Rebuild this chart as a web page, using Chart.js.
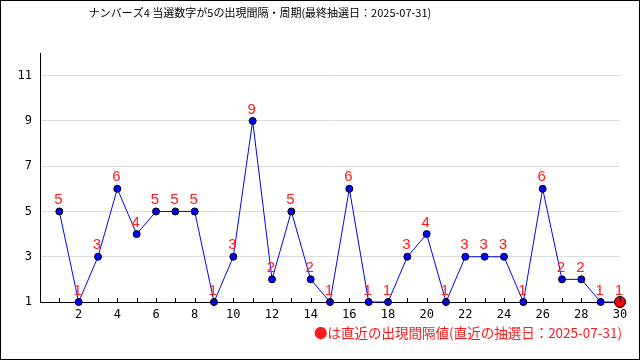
<!DOCTYPE html>
<html>
<head>
<meta charset="utf-8">
<script src="https://cdn.jsdelivr.net/npm/chart.js@4"></script>
<style>
  html, body { margin: 0; padding: 0; background: #fff; }
  #wrap { width: 640px; height: 360px; }
</style>
</head>
<body>
<div id="wrap"><canvas id="intervalChart" width="640" height="360"></canvas></div>
<script>
const titleText = "ナンバーズ4 当選数字が5の出現間隔・周期(最終抽選日：2025-07-31)";
const noteText = "●は直近の出現間隔値(直近の抽選日：2025-07-31)";
const draws = [1, 2, 3, 4, 5, 6, 7, 8, 9, 10, 11, 12, 13, 14, 15, 16, 17, 18, 19, 20, 21, 22, 23, 24, 25, 26, 27, 28, 29, 30];
const intervals = [5, 1, 3, 6, 4, 5, 5, 5, 1, 3, 9, 2, 5, 2, 1, 6, 1, 1, 3, 4, 1, 3, 3, 3, 1, 6, 2, 2, 1, 1];
const yTicks = [1, 3, 5, 7, 9, 11];
const xTicks = draws;

const monoFont = "'DejaVu Sans Mono', monospace";
const lastIdx = intervals.length - 1;

// labels, inward ticks, title, note and frame
const extras = {
  id: "extras",
  afterDatasetsDraw(c) {
    const ctx = c.ctx;
    const meta = c.getDatasetMeta(0);
    ctx.save();
    ctx.fillStyle = "#ff1a1a";
    ctx.font = "15px 'Liberation Sans', sans-serif";
    ctx.textAlign = "center";
    ctx.textBaseline = "bottom";
    meta.data.forEach((pt, i) => {
      ctx.fillText(String(intervals[i]), pt.x - 1, pt.y - 4);
    });
    ctx.restore();
  },
  afterDraw(c) {
    const ctx = c.ctx;
    const xs = c.scales.x;
    const bottom = c.chartArea.bottom;
    ctx.save();
    ctx.strokeStyle = "#000";
    ctx.lineWidth = 1;
    ctx.beginPath();
    xTicks.forEach((v) => {
      const px = Math.round(xs.getPixelForValue(v)) + 0.5;
      ctx.moveTo(px, bottom);
      ctx.lineTo(px, bottom - 4);
    });
    ctx.stroke();

    ctx.fillStyle = "#000";
    ctx.font = "11px 'Noto Sans CJK JP', sans-serif";
    ctx.textAlign = "center";
    ctx.textBaseline = "middle";
    ctx.fillText(titleText, 260, 13);

    ctx.fillStyle = "#ff1a1a";
    ctx.font = "13.5px 'Noto Sans CJK JP', sans-serif";
    ctx.textAlign = "right";
    ctx.fillText(noteText, 622, 333);

    ctx.strokeRect(0.5, 0.5, 639, 359);
    ctx.restore();
  },
};

new Chart(document.getElementById("intervalChart"), {
  type: "line",
  data: {
    datasets: [
      {
        data: draws.map((d, i) => ({ x: d, y: intervals[i] })),
        borderColor: "#0000ff",
        borderWidth: 1,
        tension: 0,
        clip: false,
        pointRadius: intervals.map((v, i) => (i === lastIdx ? 5.5 : 3.5)),
        pointBackgroundColor: intervals.map((v, i) => (i === lastIdx ? "#ff0000" : "#0000ff")),
        pointBorderColor: "#000",
        pointBorderWidth: 1,
      },
    ],
  },
  plugins: [extras],
  options: {
    responsive: false,
    animation: false,
    layout: { padding: { top: 53, right: 20, bottom: 0, left: 0 } },
    plugins: {
      legend: { display: false },
      title: { display: false },
      tooltip: { enabled: false },
    },
    scales: {
      x: {
        type: "linear",
        min: 0,
        max: 30,
        afterFit: (s) => { s.height = 58; },
        afterBuildTicks: (s) => { s.ticks = xTicks.map((v) => ({ value: v })); },
        grid: { display: false, drawTicks: false },
        border: { display: true, color: "#000", width: 1 },
        ticks: {
          autoSkip: false,
          maxRotation: 0,
          padding: 6,
          color: "#000",
          font: { family: monoFont, size: 12 },
          callback: (v) => (v % 2 === 0 ? String(v) : ""),
        },
      },
      y: {
        min: 1,
        max: 12,
        afterFit: (s) => { s.width = 40; },
        afterBuildTicks: (s) => { s.ticks = yTicks.map((v) => ({ value: v })); },
        grid: { color: "#dddddd", drawTicks: false },
        border: { display: true, color: "#000", width: 1 },
        ticks: {
          padding: 8,
          color: "#000",
          font: { family: monoFont, size: 12 },
        },
      },
    },
  },
});
</script>
</body>
</html>
